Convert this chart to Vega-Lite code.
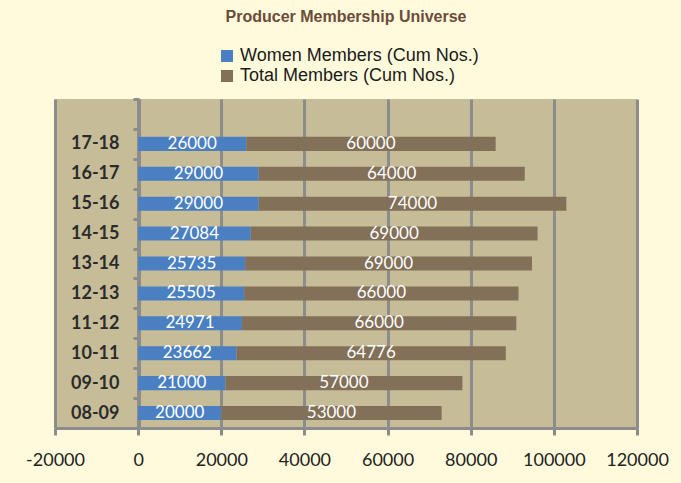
{
  "$schema": "https://vega.github.io/schema/vega-lite/v6.json",
  "width": 582,
  "height": 329,
  "autosize": {"type": "none"},
  "padding": {"left": 55, "top": 99, "right": 44, "bottom": 55},
  "background": "#fffadc",
  "title": {
    "text": "Producer Membership Universe",
    "font": "Liberation Sans",
    "fontSize": 16,
    "fontWeight": "bold",
    "color": "#6b4c3a",
    "anchor": "middle",
    "offset": 22
  },
  "data": {
    "values": [
      {"year": "17-18", "series": "Women Members (Cum Nos.)", "order": 1, "value": 26000},
      {"year": "17-18", "series": "Total Members (Cum Nos.)", "order": 2, "value": 60000},
      {"year": "16-17", "series": "Women Members (Cum Nos.)", "order": 1, "value": 29000},
      {"year": "16-17", "series": "Total Members (Cum Nos.)", "order": 2, "value": 64000},
      {"year": "15-16", "series": "Women Members (Cum Nos.)", "order": 1, "value": 29000},
      {"year": "15-16", "series": "Total Members (Cum Nos.)", "order": 2, "value": 74000},
      {"year": "14-15", "series": "Women Members (Cum Nos.)", "order": 1, "value": 27084},
      {"year": "14-15", "series": "Total Members (Cum Nos.)", "order": 2, "value": 69000},
      {"year": "13-14", "series": "Women Members (Cum Nos.)", "order": 1, "value": 25735},
      {"year": "13-14", "series": "Total Members (Cum Nos.)", "order": 2, "value": 69000},
      {"year": "12-13", "series": "Women Members (Cum Nos.)", "order": 1, "value": 25505},
      {"year": "12-13", "series": "Total Members (Cum Nos.)", "order": 2, "value": 66000},
      {"year": "11-12", "series": "Women Members (Cum Nos.)", "order": 1, "value": 24971},
      {"year": "11-12", "series": "Total Members (Cum Nos.)", "order": 2, "value": 66000},
      {"year": "10-11", "series": "Women Members (Cum Nos.)", "order": 1, "value": 23662},
      {"year": "10-11", "series": "Total Members (Cum Nos.)", "order": 2, "value": 64776},
      {"year": "09-10", "series": "Women Members (Cum Nos.)", "order": 1, "value": 21000},
      {"year": "09-10", "series": "Total Members (Cum Nos.)", "order": 2, "value": 57000},
      {"year": "08-09", "series": "Women Members (Cum Nos.)", "order": 1, "value": 20000},
      {"year": "08-09", "series": "Total Members (Cum Nos.)", "order": 2, "value": 53000}
    ]
  },
  "transform": [
    {"stack": "value", "groupby": ["year"], "sort": [{"field": "order"}], "as": ["v0", "v1"]},
    {"calculate": "(datum.v0 + datum.v1) / 2", "as": "mid"}
  ],
  "encoding": {
    "y": {
      "field": "year",
      "type": "nominal",
      "title": null,
      "scale": {
        "domain": ["", "17-18", "16-17", "15-16", "14-15", "13-14", "12-13", "11-12", "10-11", "09-10", "08-09"],
        "paddingInner": 0,
        "paddingOuter": 0
      },
      "axis": {
        "orient": "left",
        "offset": -84,
        "domainColor": "#8c8c8c",
        "domainWidth": 3,
        "tickColor": "#8c8c8c",
        "tickWidth": 3,
        "tickSize": 6,
        "tickBand": "extent",
        "labelFont": "Lato",
        "labelFontSize": 18,
        "labelFontWeight": "bold",
        "labelColor": "#2b2b2b",
        "labelPadding": 14,
        "grid": false
      }
    }
  },
  "layer": [
    {
      "mark": {"type": "bar", "height": {"band": 0.47}},
      "encoding": {
        "x": {
          "field": "v0",
          "type": "quantitative",
          "title": null,
          "scale": {"domain": [-20000, 120000], "nice": false, "zero": false},
          "axis": {
            "values": [-20000, 0, 20000, 40000, 60000, 80000, 100000, 120000],
            "format": "d",
            "labelExpr": "replace(datum.label, '\u2212', '-')",
            "labelOverlap": false,
            "labelFlush": false,
            "grid": true,
            "gridColor": "#8c8c8c",
            "gridWidth": 3,
            "gridOpacity": 1,
            "domainColor": "#8c8c8c",
            "domainWidth": 3,
            "tickColor": "#8c8c8c",
            "tickWidth": 3,
            "tickSize": 7,
            "labelFont": "Lato",
            "labelFontSize": 18,
            "labelColor": "#222222",
            "labelPadding": 16
          }
        },
        "x2": {"field": "v1"},
        "color": {
          "field": "series",
          "type": "nominal",
          "title": null,
          "scale": {
            "domain": ["Women Members (Cum Nos.)", "Total Members (Cum Nos.)"],
            "range": ["#4a7fc1", "#827059"]
          },
          "legend": {
            "orient": "none",
            "legendX": 163,
            "legendY": -52,
            "direction": "vertical",
            "symbolType": "square",
            "symbolSize": 144,
            "symbolStrokeWidth": 0,
            "labelFont": "Liberation Sans",
            "labelFontSize": 18,
            "labelColor": "#1a1a1a",
            "rowPadding": 2,
            "padding": 0,
            "labelLimit": 400
          }
        }
      }
    },
    {
      "mark": {"type": "text", "color": "white", "font": "Lato", "fontSize": 17, "baseline": "middle", "align": "center"},
      "encoding": {
        "x": {"field": "mid", "type": "quantitative"},
        "text": {"field": "value", "type": "quantitative", "format": "d"}
      }
    }
  ],
  "config": {
    "view": {"fill": "#c6bd98", "stroke": null}
  }
}
